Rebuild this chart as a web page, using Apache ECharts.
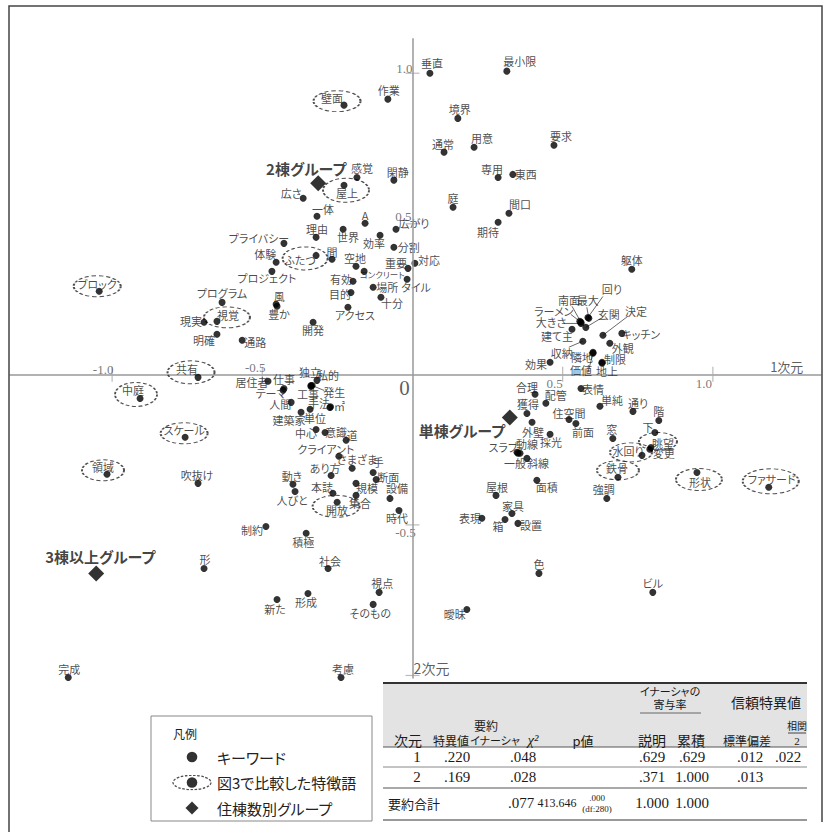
<!DOCTYPE html>
<html lang="ja">
<head>
<meta charset="UTF-8">
<title>対応分析 キーワード布置</title>
<script src="https://cdn.jsdelivr.net/npm/echarts@6/dist/echarts.min.js"></script>
<style>
    html, body { margin: 0; padding: 0; background: #fff; }
    #chart { width: 824px; height: 832px; }
    /* プロポーショナル字幅 (MS Pゴシック風) */
    #chart text { font-feature-settings: "palt" 1 !important; }
</style>
</head>
<body>
<div id="chart"></div>
<script>
    // キーワード
    var kwNames = ['垂直','最小限','作業','境界','用意','通常','要求','感覚','閑静','専用','東西','庭','間口','期待',
        '広さ','一体','理由','A','広がり','世界','効率','分割','プライバシー','体験','プロジェクト','間','空地','コンクリート',
        '重要','対応','有効','タイル','場所','目的','十分','アクセス','風','豊か','開発','プログラム','現実','明確','通路',
        '吹抜け','居住者','仕事','テーマ','独立','私的','工事','発生','人間','手法','㎡','単位','建築家','中心','意識','道',
        'クライアント','さまざま','手','あり方','断面','動き','規模','人びと','本誌','集合','設備','時代','制約','積極',
        '社会','形','視点','形成','新た','そのもの','完成','考慮',
        '躯体','回り','最大','南面','ラーメン','大きさ','玄関','建て主','決定','キッチン','外観','収納','隣地','価値',
        '制限','地上','効果','合理','表情','配管','単純','通り','獲得','階','住空間','前面','外壁','採光','窓','下','変更',
        '強調','スラブ','動線','一般','斜線','面積','屋根','家具','表現','箱','設置','色','ビル','曖昧'];
    var kwX = [0.058,0.314,-0.082,0.151,0.205,0.105,0.471,-0.185,-0.062,0.285,0.334,0.135,0.321,0.285,
        -0.364,-0.318,-0.321,-0.158,-0.055,-0.231,-0.108,-0.062,-0.428,-0.454,-0.468,-0.268,-0.188,-0.161,
        -0.015,0.008,-0.198,-0.018,-0.131,-0.205,-0.105,-0.215,-0.454,-0.451,-0.331,-0.634,-0.694,-0.651,-0.567,
        -0.714,-0.481,-0.428,-0.431,-0.338,-0.318,-0.338,-0.334,-0.404,-0.275,-0.273,-0.341,-0.371,-0.321,-0.291,-0.221,
        -0.245,-0.201,-0.131,-0.271,-0.121,-0.398,-0.188,-0.391,-0.265,-0.188,-0.075,-0.045,-0.488,-0.354,
        -0.281,-0.694,-0.111,-0.348,-0.451,-0.131,-1.146,-0.238,
        0.730,0.584,0.587,0.561,0.557,0.561,0.577,0.531,0.634,0.697,0.657,0.567,0.601,0.601,
        0.631,0.631,0.458,0.408,0.561,0.444,0.624,0.734,0.381,0.820,0.521,0.544,0.398,0.458,0.667,0.807,0.790,
        0.647,0.348,0.358,0.351,0.381,0.414,0.278,0.331,0.231,0.308,0.351,0.421,0.800,0.181];
    var kwY = [1.000,1.007,0.914,0.850,0.754,0.738,0.761,0.654,0.645,0.654,0.664,0.555,0.535,0.505,
        0.585,0.525,0.455,0.502,0.482,0.482,0.462,0.422,0.435,0.372,0.342,0.382,0.359,0.342,
        0.352,0.369,0.309,0.316,0.289,0.272,0.256,0.223,0.233,0.226,0.173,0.239,0.173,0.133,0.113,
        -0.362,-0.023,-0.047,-0.053,-0.037,-0.020,-0.040,-0.037,-0.093,-0.110,-0.108,-0.116,-0.126,-0.183,-0.193,-0.219,
        -0.272,-0.312,-0.326,-0.336,-0.349,-0.365,-0.362,-0.389,-0.395,-0.402,-0.412,-0.452,-0.505,-0.528,
        -0.645,-0.645,-0.724,-0.728,-0.748,-0.764,-1.007,-1.007,
        0.349,0.189,0.186,0.173,0.176,0.169,0.156,0.150,0.130,0.136,0.103,0.110,0.073,0.070,
        0.040,0.037,0.040,-0.066,-0.047,-0.096,-0.106,-0.123,-0.130,-0.153,-0.150,-0.163,-0.159,-0.199,-0.213,-0.193,-0.249,
        -0.412,-0.259,-0.262,-0.262,-0.279,-0.352,-0.402,-0.462,-0.478,-0.482,-0.495,-0.661,-0.724,-0.781];

    // 図3で比較した特徴語
    var cmpNames = ['壁面','屋上','ふたつ','ブロック','視覚','共有','中庭','スケール','領域','開放','眺望','水回り','鉄骨','形状','ファサード'];
    var cmpX = [-0.228,-0.228,-0.321,-1.043,-0.651,-0.714,-0.907,-0.757,-1.017,-0.251,0.794,0.764,0.684,0.947,1.186];
    var cmpY = [0.894,0.628,0.395,0.276,0.176,-0.010,-0.080,-0.209,-0.332,-0.425,-0.243,-0.269,-0.342,-0.326,-0.375];

    // 住棟数別グループ
    var grpNames = ['2棟グループ','単棟グループ','3棟以上グループ'];
    var grpX = [-0.314, 0.324, -1.053];
    var grpY = [0.635, -0.143, -0.661];

    // 軸目盛
    var xTicks = [-1.0, -0.5, 0.5, 1.0];
    var xTickLabels = ['-1.0', '-0.5', '0.5', '1.0'];
    var yTicks = [1.0, 0.5, -0.5, -1.0];
    var yTickLabels = ['1.0', '0.5', '-0.5', ''];

    // 表
    var tblHead = ['次元','特異値','イナーシャ','χ²','p値','説明','累積','標準偏差','相関'];
    var tblRows = [
        ['1', '.220', '.048', '', '', '.629', '.629', '.012', '.022'],
        ['2', '.169', '.028', '', '', '.371', '1.000', '.013', '']
    ];
    var tblTotal = ['要約合計', '', '.077', '413.646', '.000', '1.000', '1.000', '', ''];
    var legendNames = ['キーワード', '図3で比較した特徴語', '住棟数別グループ'];

    // ラベル位置 (点からのずれ px)
    var lblOff = {
        '垂直':[2,-10],'最小限':[13,-10],'作業':[1,-9],'境界':[2,-9],'用意':[8,-9],'通常':[-1,-8],'要求':[7,-9],
        '感覚':[5,-9],'閑静':[4,-8],'専用':[-6,-8],'東西':[13,0],'庭':[0,-9],'間口':[11,-9],'期待':[-10,10],
        '広さ':[-12,-5],'一体':[6,-7],'理由':[1,-8],'A':[0,-8],'広がり':[18,-6],'世界':[5,8],'効率':[-6,8],'分割':[15,0],
        'プライバシー':[-25,-5],'体験':[-11,-8],'プロジェクト':[-5,7],'間':[0,-7],'空地':[-1,-8],'コンクリート':[18,3],
        '重要':[-12,-5],'対応':[14,-3],'有効':[-12,-2],'タイル':[9,8],'場所':[14,0],'目的':[-11,2],'十分':[11,6],
        'アクセス':[7,8],'風':[3,-8],'豊か':[2,8],'開発':[0,8],'プログラム':[0,-9],'現実':[-13,-1],'明確':[-13,6],
        '通路':[13,2],'吹抜け':[-1,-8],'居住者':[-16,1],'仕事':[0,-10],'テーマ':[-12,3],'独立':[-1,-13],'私的':[11,-5],
        '工事':[-3,8],'発生':[22,7],'人間':[-11,2],'手法':[-11,-4],'㎡':[9,-1],'単位':[5,9],'建築家':[-12,8],
        '中心':[-10,4],'意識':[11,0],'道':[6,-5],'クライアント':[-13,-7],'さまざま':[5,-9],'手':[5,-11],'あり方':[-6,-8],
        '断面':[12,-2],'動き':[-1,-8],'規模':[11,5],'人びと':[-3,9],'本誌':[-11,-6],'集合':[4,8],'設備':[7,-10],
        '時代':[-2,8],'制約':[-14,4],'積極':[-3,9],'社会':[2,-8],'形':[1,-10],'視点':[3,-9],'形成':[-2,8],'新た':[-2,9],
        'そのもの':[-3,9],'完成':[1,-9],'考慮':[2,-9],
        '躯体':[0,-9],'回り':[24,-28],'最大':[-1,-18],'南面':[-12,-22],'ラーメン':[-26,-10],'大きさ':[-30,-1],
        '玄関':[23,-13],'建て主':[-15,7],'決定':[33,-24],'キッチン':[19,1],'外観':[13,5],'収納':[-21,12],'隣地':[-11,5],
        '価値':[-12,17],'制限':[13,-3],'地上':[5,8],'効果':[-14,2],'合理':[-8,-7],'表情':[12,0],'配管':[10,-8],
        '単純':[12,-6],'通り':[5,-8],'獲得':[1,-9],'階':[0,-9],'住空間':[0,-7],'前面':[7,9],'外壁':[1,10],'採光':[1,8],
        '窓':[-1,-9],'下':[-7,-5],'変更':[14,4],'強調':[-3,-9],'スラブ':[-14,-5],'動線':[7,-9],'一般':[-3,10],
        '斜線':[11,5],'面積':[10,7],'屋根':[1,-8],'家具':[1,-7],'表現':[-12,0],'箱':[-7,7],'設置':[13,2],'色':[0,-9],
        'ビル':[0,-9],'曖昧':[-12,4],
        '壁面':[-12,-7],'屋上':[3,8],'ふたつ':[-16,5],'ブロック':[-2,-7],'視覚':[11,-6],'共有':[-11,-8],'中庭':[-7,-8],
        'スケール':[-1,-7],'領域':[-4,-7],'開放':[0,8],'眺望':[12,-5],'水回り':[-14,-4],'鉄骨':[-1,-9],'形状':[3,9],
        'ファサード':[3,-8]
    };
    // 引き出し線の終点 (点からのずれ px)
    var leaderEnd = {
        '回り':[15,-21],'最大':[-2,-11],'南面':[-9,-16],'ラーメン':[-9,-7],'大きさ':[-17,0],'玄関':[15,-9],
        '決定':[25,-19],'収納':[-14,6],'価値':[-5,19],'発生':[12,5]
    };
    // 点線の楕円 [dx, dy, 幅, 高さ]
    var ellBox = {
        '壁面':[-7,-4,47,21],'屋上':[2,5,46,24],'ふたつ':[-11,3,45,23],'ブロック':[-2,-5,47,21],'視覚':[10,-4,46,21],
        '共有':[-7,-5,47,23],'中庭':[-4,-4,42,24],'スケール':[-1,-4,47,21],'領域':[-4,-4,42,21],'開放':[-1,4,47,22],
        '眺望':[7,-6,38,18],'水回り':[-11,-3,42,19],'鉄骨':[0,-7,42,19],'形状':[2,7,46,22],'ファサード':[2,-6,56,25]
    };
    var grpOff = [[-12,-15], [-48,13], [4,-17]];

    var JP = 'Noto Sans CJK JP';
    var SERIF = 'Liberation Serif';

    var wordData = [];
    function addWord(n, x, y) {
        var d = {name: n, value: [x, y]};
        if (n === 'コンクリート') d.label = {fontSize: 8.5};
        wordData.push(d);
    }
    kwNames.forEach(function (n, i) { addWord(n, kwX[i], kwY[i]); });
    cmpNames.forEach(function (n, i) { addWord(n, cmpX[i], cmpY[i]); });
    var leaderData = wordData.filter(function (d) { return leaderEnd[d.name]; })
        .map(function (d) { return {name: d.name, value: d.value}; });

    var ellData = cmpNames.map(function (n, i) {
        var b = ellBox[n];
        return {name: n, value: [cmpX[i], cmpY[i]], symbolSize: [b[2], b[3]], symbolOffset: [b[0], b[1]]};
    });
    var grpData = grpNames.map(function (n, i) { return {name: n, value: [grpX[i], grpY[i]]}; });

    var tickData = [];
    var tickOffX = [[-9,-5],[-7,-7],[-8,9],[-9,9]];
    var tickOffY = [[-8,-5],[-9,-7],[-7,8],[0,0]];
    xTicks.forEach(function (t, i) {
        tickData.push({value: [t, 0], symbolSize: [1.2, 15], label: {formatter: xTickLabels[i], offset: tickOffX[i]}});
    });
    yTicks.forEach(function (t, i) {
        tickData.push({value: [0, t], symbolSize: [14, 1.2], label: {formatter: yTickLabels[i], offset: tickOffY[i]}});
    });
    var axisWords = [
        {value: [0, 0], label: {formatter: '0', fontSize: 21, offset: [-8, 14]}},
        {value: [1.246, 0], label: {formatter: '1次元', fontFamily: JP, fontSize: 13, offset: [0, -8]}},
        {value: [0, -1.0], label: {formatter: '2次元', fontFamily: JP, fontSize: 14, offset: [19, -7]}}
    ];

    function svgIcon(body) {
        return 'image://data:image/svg+xml;charset=utf-8,' + encodeURIComponent(
            '<svg xmlns="http://www.w3.org/2000/svg" width="40" height="16">' + body + '</svg>');
    }
    var iconDot = svgIcon('<circle cx="20" cy="8" r="5.3" fill="#000"/>');
    var iconEll = svgIcon('<ellipse cx="20" cy="8" rx="19" ry="7.2" fill="none" stroke="#222" stroke-width="1.3" stroke-dasharray="2.5 1.6"/><circle cx="20" cy="8" r="5.3" fill="#000"/>');
    var iconDia = svgIcon('<polygon points="20,1.5 26.5,8 20,14.5 13.5,8" fill="#000"/>');

    // 表・凡例枠 (graphic)
    function txt(x, y, s, size, family, opt) {
        opt = opt || {};
        var al = opt.align || 'center';
        return {
            type: 'text', x: x, y: y, z: 10,
            style: {
                text: s, fill: '#1a1a1a', textFill: '#1a1a1a',
                font: (opt.italic ? 'italic ' : '') + size + 'px "' + family + '"',
                align: al, textAlign: al, verticalAlign: 'middle', textVerticalAlign: 'middle'
            }
        };
    }
    function hline(x1, x2, y, color, w) {
        return {type: 'line', z: 10, shape: {x1: x1, y1: y, x2: x2, y2: y}, style: {stroke: color, lineWidth: w}};
    }
    var headX = [408, 451, 495, 533, 583, 652, 691, 747, 797];
    var headSize = [14, 12, 11, 15, 13, 14, 14, 12, 10];
    var rowX = [417, 457, 523, 557, 597, 652, 692, 750, 788];
    var rowY = [757, 777];
    var g = [];
    // 外枠 (下辺は切れている)
    g.push({type: 'polyline', z: 1, shape: {points: [[9, 832], [9, 6], [822, 6], [822, 822]]},
        style: {fill: 'none', stroke: '#444', lineWidth: 1.5}});
    // 表
    g.push({type: 'rect', z: 9, shape: {x: 383, y: 684, width: 424, height: 63}, style: {fill: '#e3e3e3'}});
    g.push(hline(383, 807, 683, '#333', 2));
    g.push(hline(383, 807, 747, '#555', 1));
    g.push(hline(383, 807, 767, '#888', 1));
    g.push(hline(383, 807, 788, '#555', 1));
    g.push(hline(383, 807, 820, '#999', 2));
    g.push(hline(640, 701, 713, '#666', 1));
    g.push(hline(788, 806, 733, '#444', 1));
    g.push(txt(670, 691, 'イナーシャの', 11, JP));
    g.push(txt(670, 704, '寄与率', 11, JP));
    g.push(txt(766, 702, '信頼特異値', 14, JP));
    g.push(txt(486, 725, '要約', 12, JP));
    tblHead.forEach(function (h, i) {
        if (i === 3) g.push(txt(headX[i], 740, h, headSize[i], SERIF, {italic: true}));
        else if (i === 8) { g.push(txt(headX[i], 725, h, headSize[i], JP)); g.push(txt(headX[i], 741, '2', 11, SERIF)); }
        else g.push(txt(headX[i], 740, h, headSize[i], JP));
    });
    tblRows.forEach(function (r, j) {
        r.forEach(function (v, i) { if (v) g.push(txt(rowX[i], rowY[j], v, 15, SERIF)); });
    });
    g.push(txt(388, 803, tblTotal[0], 13, JP, {align: 'left'}));
    g.push(txt(rowX[2] - 2, 803, tblTotal[2], 15, SERIF));
    g.push(txt(rowX[3], 803, tblTotal[3], 12, SERIF));
    g.push(txt(rowX[4], 798, tblTotal[4], 9, SERIF));
    g.push(txt(rowX[4], 809, '(df:280)', 9, SERIF));
    g.push(txt(rowX[5], 803, tblTotal[5], 15, SERIF));
    g.push(txt(rowX[6], 803, tblTotal[6], 15, SERIF));
    // 凡例枠
    g.push({type: 'rect', z: 3, shape: {x: 151, y: 716, width: 221, height: 105}, style: {fill: '#fff', stroke: '#888', lineWidth: 1}});
    g.push(txt(185, 733, '凡例', 12, JP));

    var chart = echarts.init(document.getElementById('chart'), null, {renderer: 'svg'});
    var option = {
        animation: false,
        grid: {left: 10, top: 10, width: 811, height: 810},
        xAxis: {
            type: 'value', min: -1.34, max: 1.36,
            axisLine: {onZero: true, lineStyle: {color: '#999', width: 1.5}},
            axisTick: {show: false}, axisLabel: {show: false}, splitLine: {show: false}
        },
        yAxis: {
            type: 'value', min: -1.48, max: 1.21,
            axisLine: {show: false}, axisTick: {show: false}, axisLabel: {show: false}, splitLine: {show: false}
        },
        legend: {
            data: [
                {name: legendNames[0], icon: iconDot},
                {name: legendNames[1], icon: iconEll},
                {name: legendNames[2], icon: iconDia}
            ],
            orient: 'vertical', left: 167, top: 744, z: 5,
            itemWidth: 40, itemHeight: 16, itemGap: 9.5, selectedMode: false,
            textStyle: {fontFamily: JP, fontSize: 15, color: '#222', lineHeight: 16}
        },
        graphic: {elements: g},
        series: [
            {
                name: 'ticks', type: 'scatter', silent: true, z: 1,
                symbol: 'rect', itemStyle: {color: '#aaa'},
                data: tickData,
                label: {show: true, position: 'inside', fontFamily: SERIF, fontSize: 13, color: '#555'},
                markLine: {
                    silent: true, symbol: 'none', label: {show: false},
                    lineStyle: {color: '#999', width: 1.5, type: 'solid'},
                    data: [[{coord: [0, 1.116]}, {coord: [0, -1.01]}]]
                }
            },
            {
                name: 'axisWords', type: 'scatter', silent: true, z: 1, symbolSize: 0,
                data: axisWords,
                label: {show: true, position: 'inside', fontFamily: SERIF, color: '#333'}
            },
            {
                name: 'leaders', type: 'custom', silent: true, z: 2,
                data: leaderData,
                renderItem: function (params, api) {
                    var e = leaderEnd[leaderData[params.dataIndex].name];
                    var p = api.coord([api.value(0), api.value(1)]);
                    return {
                        type: 'line',
                        shape: {x1: p[0], y1: p[1], x2: p[0] + e[0], y2: p[1] + e[1]},
                        style: {stroke: '#444', lineWidth: 0.8}
                    };
                }
            },
            {
                name: legendNames[1], type: 'scatter', silent: true, z: 2,
                symbol: 'circle',
                itemStyle: {color: 'rgba(0,0,0,0)', borderColor: '#222', borderWidth: 1.4, borderType: [3, 2]},
                data: ellData
            },
            {
                name: legendNames[0], type: 'scatter', silent: true, z: 3,
                symbol: 'circle', symbolSize: 7, itemStyle: {color: '#000'},
                data: wordData,
                label: {show: true, position: 'inside', formatter: '{b}', fontFamily: JP, fontSize: 11, color: '#1a1a1a'},
                labelLayout: function (p) {
                    var o = lblOff[wordData[p.dataIndex].name] || [0, -10];
                    return {dx: o[0], dy: o[1]};
                }
            },
            {
                name: legendNames[2], type: 'scatter', silent: true, z: 3,
                symbol: 'diamond', symbolSize: 16, itemStyle: {color: '#000'},
                data: grpData,
                label: {show: true, position: 'inside', formatter: '{b}', fontFamily: JP, fontSize: 15, fontWeight: 'bold', color: '#111'},
                labelLayout: function (p) {
                    var o = grpOff[p.dataIndex];
                    return {dx: o[0], dy: o[1]};
                }
            }
        ]
    };
    chart.setOption(option);
</script>
</body>
</html>
